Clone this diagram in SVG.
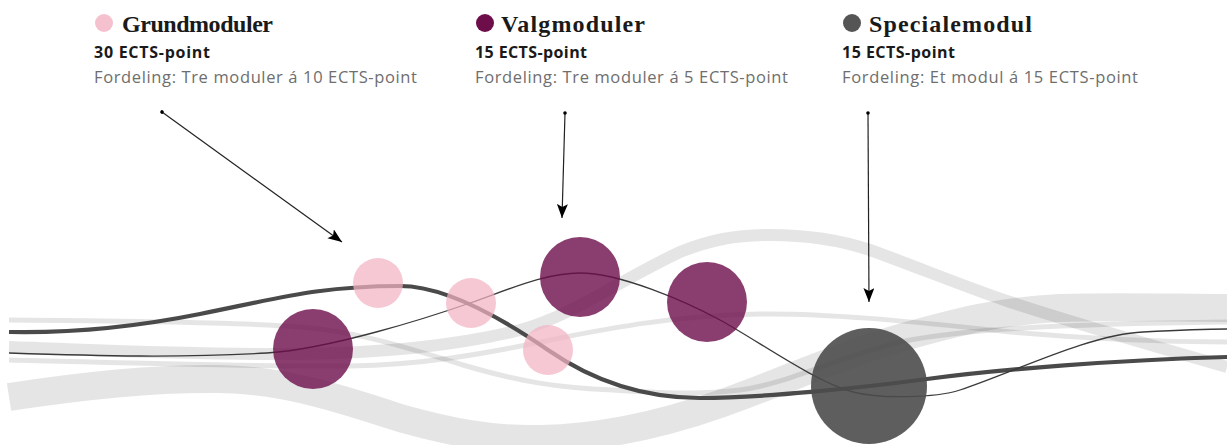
<svg xmlns="http://www.w3.org/2000/svg" width="1227" height="445" viewBox="0 0 1227 445">
<style>
.band{fill:none;stroke:#000;stroke-opacity:0.1;stroke-linecap:butt}
.thick{fill:none;stroke:#4a4a4a;stroke-width:4.2}
.thin{fill:none;stroke:#3a3a3a;stroke-width:1.3}
.pink{fill:#f2b3c4;fill-opacity:0.72}
.purple{fill:#6d0e4b;fill-opacity:0.8}
.grey{fill:#4d4d4d;fill-opacity:0.9}
.head{font-family:"Liberation Serif",serif;font-weight:bold;font-size:24px;fill:#1a1a1a}
.sub{font-family:"Open Sans","Liberation Sans",sans-serif;font-weight:bold;font-size:16px;fill:#1a1a1a}
.desc{font-family:"Open Sans","Liberation Sans",sans-serif;font-size:16.5px;fill:#6e6e6e}
.arrow{fill:none;stroke:#222;stroke-width:1.2}
</style>
<defs>
<marker id="ah" markerUnits="userSpaceOnUse" markerWidth="15" markerHeight="12" refX="14" refY="5.5" orient="auto">
<path d="M0,0 L14,5.5 L0,11 L3,5.5 z" fill="#000"/>
</marker>
<marker id="dot" markerUnits="userSpaceOnUse" markerWidth="5" markerHeight="5" refX="2.5" refY="2.5" orient="auto">
<circle cx="2.5" cy="2.5" r="1.8" fill="#000"/>
</marker>
</defs>
<rect width="1227" height="445" fill="#fff"/>
<g id="background">
<path class="band" stroke-width="28" d="M9,397 C80,386 160,378 220,379 C280,380 330,395 400,418 C450,432 490,440 540,439 C600,438 660,425 720,404 C780,383 840,355 900,338 C960,321 1000,311 1060,308 C1120,306 1180,308 1227,308"/>
<path class="band" stroke-width="12" d="M9,347 C100,350 200,355 300,354 C380,353 460,345 520,330 C570,317 620,280 680,252 C710,240 735,235 770,235 C810,235 840,240 870,250 C920,268 960,285 1010,302 C1080,325 1150,345 1227,367"/>
<path class="band" stroke-width="5" d="M9,320 C150,321 250,323 300,327 C350,331 390,342 463,365 C520,382 560,388 613,390 C660,393 700,395 740,390 C790,383 830,360 900,342 C960,330 1050,324 1227,322"/>
<path class="band" stroke-width="5" d="M9,360 C100,362 250,367 350,366 C420,365 480,355 560,338 C610,328 680,315 760,314 C820,313 900,320 1010,332 C1100,340 1180,342 1227,342"/>
<path class="thick" d="M9,332 C60,333 120,330 200,314 C280,298 320,286 400,286 C440,286 490,310 548,350 C590,379 640,398 700,398 C760,398 860,388 927,379 C1000,369 1120,360 1227,357"/>
<path class="thin" d="M9,353 C100,356 180,358 267,353 C330,349 430,317 470,303 C510,289 545,273 580,273 C620,273 685,301 720,320 C760,342 815,382 853,392 C880,399 935,398 960,390 C1010,374 1090,334 1143,332 C1180,330 1210,329 1227,329"/>
</g>
<g id="grund-1"><circle class="pink" cx="378" cy="283" r="25"/></g>
<g id="grund-2"><circle class="pink" cx="471" cy="303" r="25"/></g>
<g id="grund-3"><circle class="pink" cx="548" cy="350" r="25"/></g>
<g id="valg-1"><circle class="purple" cx="313" cy="349" r="40"/></g>
<g id="valg-2"><circle class="purple" cx="580" cy="277" r="40"/></g>
<g id="valg-3"><circle class="purple" cx="707" cy="302" r="40"/></g>
<g id="speciale"><circle class="grey" cx="869" cy="386" r="58"/></g>
<g id="legend-grund">
<circle cx="104" cy="23" r="9" fill="#f5c1cf"/>
<text class="head" x="122" y="32" textLength="151">Grundmoduler</text>
<text class="sub" x="94" y="58" textLength="116">30 ECTS-point</text>
<text class="desc" x="94" y="83" textLength="323">Fordeling: Tre moduler á 10 ECTS-point</text>
</g>
<g id="legend-valg">
<circle cx="485" cy="23" r="9" fill="#6d0e4b"/>
<text class="head" x="501" y="32" textLength="144">Valgmoduler</text>
<text class="sub" x="475" y="58" textLength="112">15 ECTS-point</text>
<text class="desc" x="475" y="83" textLength="313">Fordeling: Tre moduler á 5 ECTS-point</text>
</g>
<g id="legend-speciale">
<circle cx="852" cy="23" r="9" fill="#555"/>
<text class="head" x="869" y="32" textLength="163">Specialemodul</text>
<text class="sub" x="842" y="58" textLength="113">15 ECTS-point</text>
<text class="desc" x="842" y="83" textLength="296">Fordeling: Et modul á 15 ECTS-point</text>
</g>
<g id="connectors">
<line class="arrow" x1="162" y1="112" x2="342" y2="242" marker-start="url(#dot)" marker-end="url(#ah)"/>
<line class="arrow" x1="565" y1="113" x2="562" y2="218" marker-start="url(#dot)" marker-end="url(#ah)"/>
<line class="arrow" x1="868" y1="113" x2="869" y2="302" marker-start="url(#dot)" marker-end="url(#ah)"/>
</g>
</svg>
